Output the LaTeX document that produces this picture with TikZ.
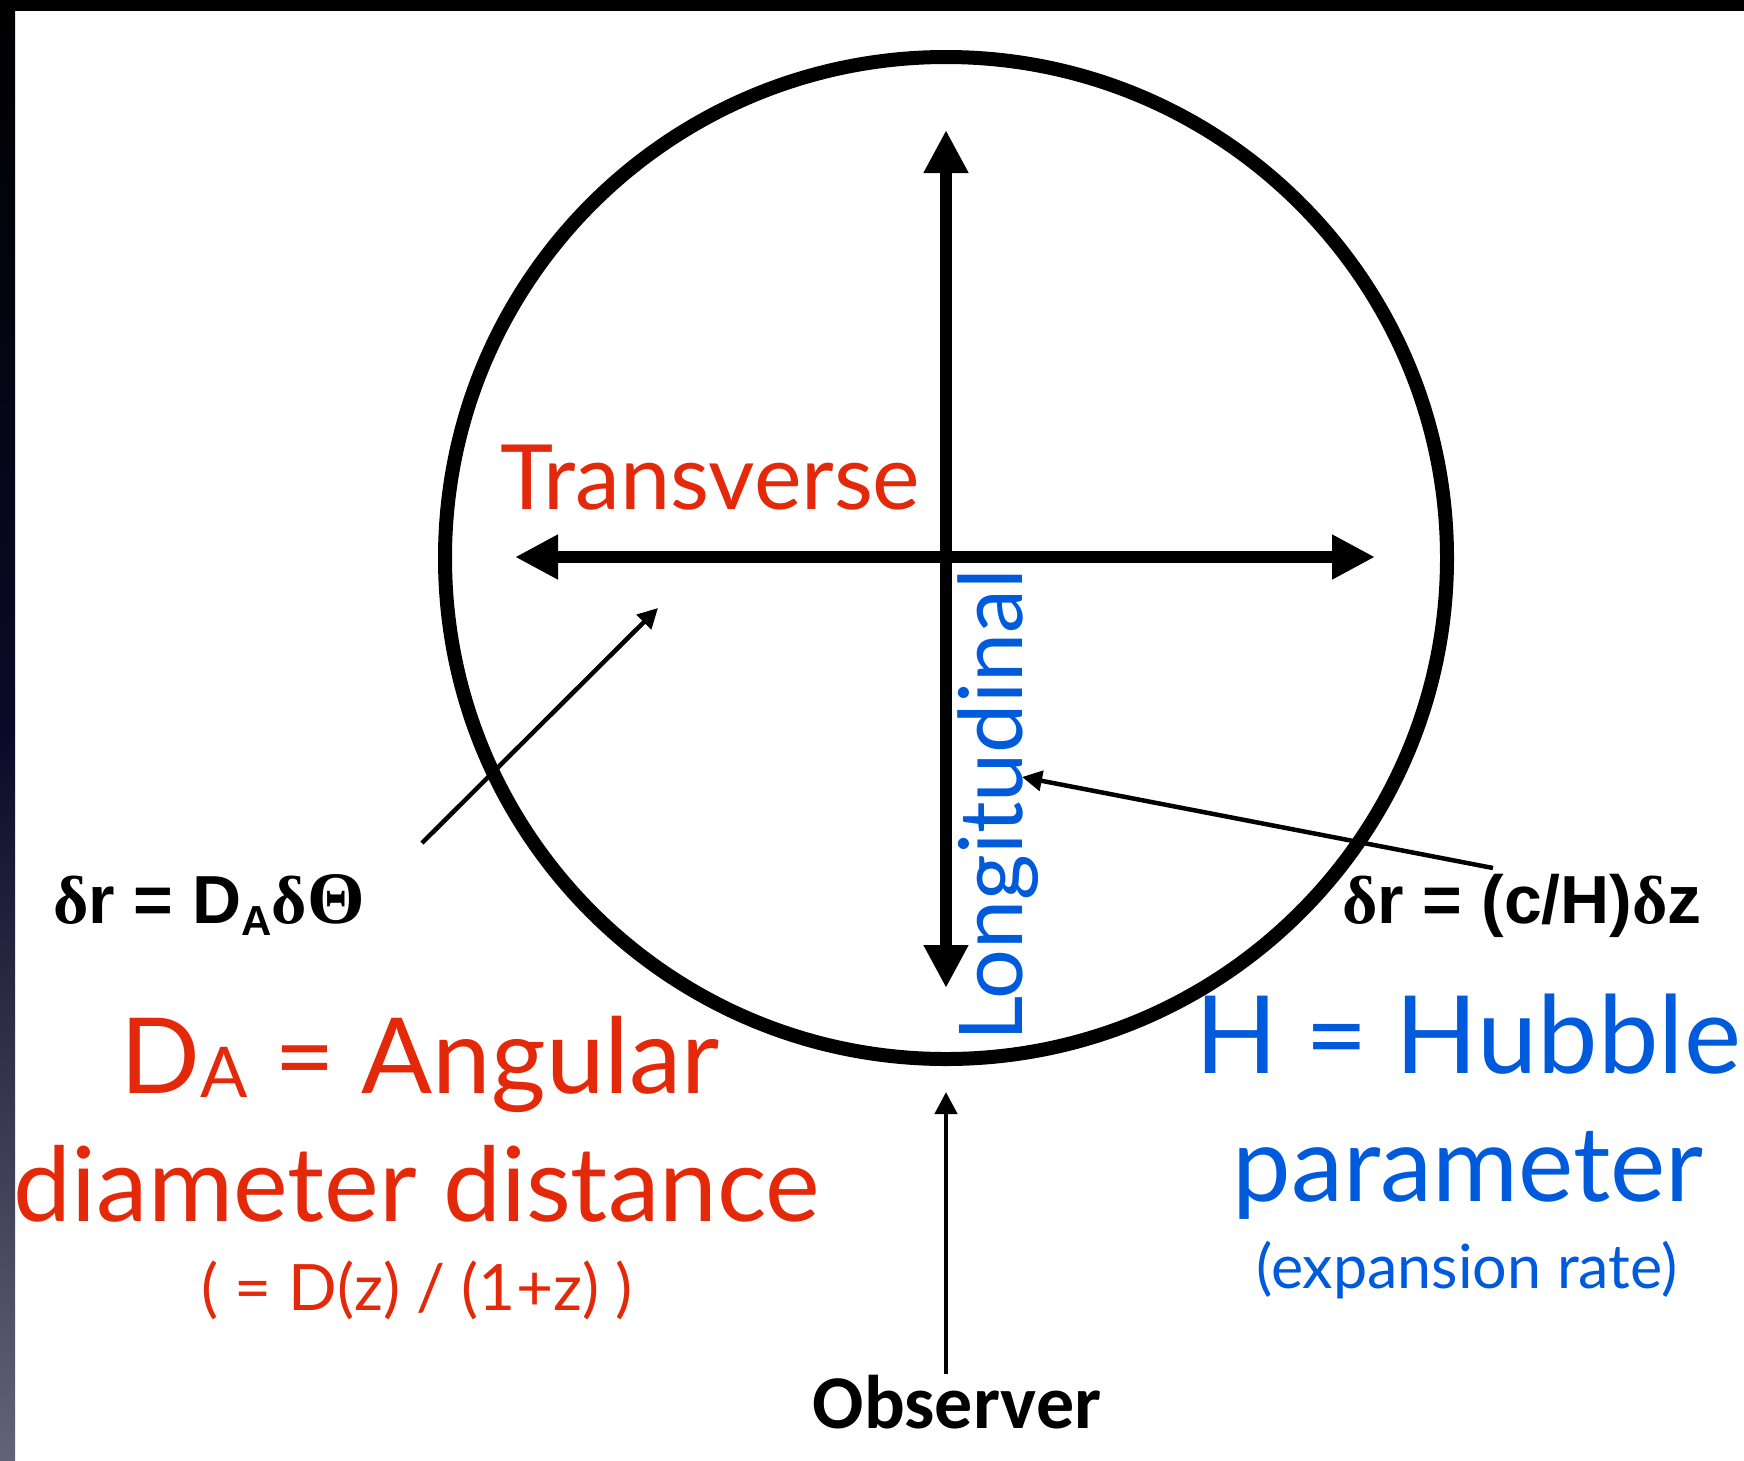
\documentclass[tikz,border=0pt]{standalone}
\usepackage{fontspec}
\setmainfont{Lato}
\newfontfamily\arialf{Liberation Sans}
\newfontfamily\symf{Liberation Serif}
\newfontfamily\calibf{Carlito}
\usetikzlibrary{arrows.meta}
\definecolor{redt}{RGB}{228,40,10}
\definecolor{bluet}{RGB}{0,90,220}
\definecolor{sideg}{RGB}{100,98,118}
\begin{document}
\begin{tikzpicture}[x=1pt,y=-1pt,
  bigdarrow/.style={line width=12pt,{Triangle[length=43pt,width=42pt]}-{Triangle[length=43pt,width=42pt]}},
  thinarrow/.style={line width=4.5pt,-{Triangle[length=20pt,width=20pt]}},
  redlbl/.style={text=redt,inner sep=0pt},
  bluelbl/.style={text=bluet,inner sep=0pt},
  formula/.style={text=black,inner sep=0pt,font=\arialf\bfseries\fontsize{68}{68}\selectfont}]
\useasboundingbox (0,0) rectangle (1744,1460);
\fill[white] (0,0) rectangle (1744,1460);
\shade[top color=black, bottom color=sideg, middle color={rgb,255:red,10;green,10;blue,40}] (0,0) rectangle (15,1460);
\fill[black] (0,0) rectangle (1744,11);

\node[circle,draw,line width=14pt,minimum size=1002pt,inner sep=0pt] (sphere) at (946,558) {};

\coordinate (vt) at (946,130);
\coordinate (vb) at (946,988);
\coordinate (hl) at (515,557);
\coordinate (hr) at (1375,557);
\draw[bigdarrow] (vb) -- (vt);
\draw[bigdarrow] (hl) -- (hr);

\node[redlbl,anchor=base west,font=\fontsize{90}{90}\selectfont] (trans) at (500,509) {Transverse};
\node[bluelbl,anchor=base west,rotate=90,font=\fontsize{88}{88}\selectfont] (longi) at (1022,1042) {Longitudinal};

\node[formula,anchor=base west] (fleft) at (53,923) {{\symf\bfseries δ}r = D\raisebox{-0.35ex}{\fontsize{42}{42}\selectfont A}{\symf\bfseries δ\fontsize{74}{74}\selectfont Θ}};
\node[formula,anchor=base west] (fright) at (1342,923) {{\symf\bfseries δ}r = (c/H){\symf\bfseries δ}z};

\coordinate (la) at (422,843);
\coordinate (lb) at (658,608);
\draw[thinarrow] (la) -- (lb);
\coordinate (ra) at (1493,868);
\coordinate (rb) at (1022,777);
\draw[thinarrow] (ra) -- (rb);

\node[anchor=base,inner sep=0pt,font=\calibf\bfseries\fontsize{76}{76}\selectfont] (obs) at (957,1428) {Observer};
\coordinate (oa) at (946,1374);
\coordinate (ob) at (946,1092);
\draw[thinarrow,-{Triangle[length=22pt,width=22pt]}] (oa) -- (ob);

\node[redlbl,anchor=base west,font=\fontsize{105}{105}\selectfont] (da) at (120,1093) {D\raisebox{-0.08ex}{\fontsize{70}{70}\selectfont A} = Angular};
\node[redlbl,anchor=base,font=\fontsize{103.5}{103.5}\selectfont] (dd) at (417,1221) {diameter distance};
\node[redlbl,anchor=base,font=\fontsize{64}{64}\selectfont] (dz) at (417,1310) {( = D(z) / (1+z) )};

\node[bluelbl,anchor=base,font=\fontsize{108}{108}\selectfont] (hh) at (1468,1073) {H = Hubble};
\node[bluelbl,anchor=base,font=\fontsize{104.5}{104.5}\selectfont] (par) at (1468,1201) {parameter};
\node[bluelbl,anchor=base,font=\fontsize{61}{61}\selectfont] (exp) at (1467,1288) {(expansion rate)};
\end{tikzpicture}
\end{document}
